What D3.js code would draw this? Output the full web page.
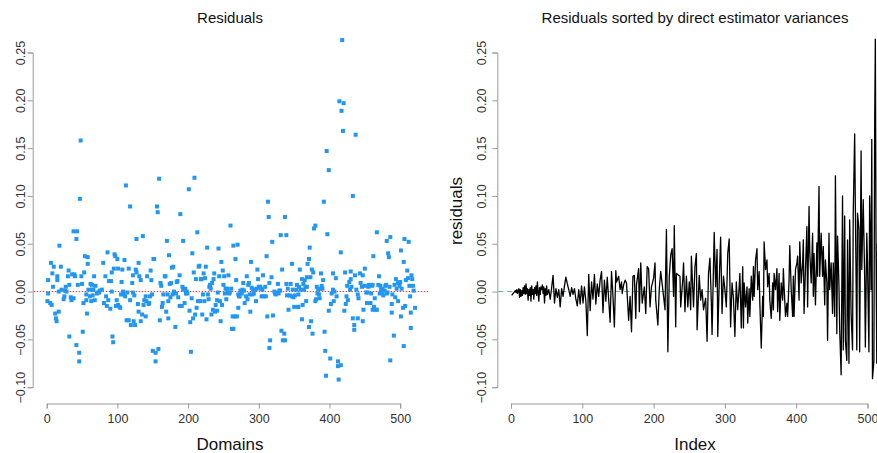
<!DOCTYPE html>
<html>
<head>
<meta charset="utf-8">
<script src="https://cdn.jsdelivr.net/npm/d3@7"></script>
<style>
    body { margin: 0; background: #fff; }
    svg { display: block; font-family: "Liberation Sans", Arial, Helvetica, sans-serif; }
</style>
</head>
<body>
<div id="vis-container"></div>
<script>
// Residuals by domain: [domain, residual]
const domainResiduals = [
    [1,-0.010],[2,0.012],[2,-0.002],[5,-0.012],[6,0.030],[7,-0.014],[8,0.019],[9,0.005],[10,0.026],[12,-0.023],
    [13,-0.028],[14,-0.031],[15,0.016],[15,0.012],[17,0.000],[17,-0.021],[18,0.048],[20,0.026],[21,0.002],[24,-0.008],
    [25,-0.005],[26,0.001],[27,0.005],[28,0.000],[30,0.016],[31,0.022],[32,-0.047],[32,0.007],[34,-0.006],[35,-0.009],
    [36,0.018],[38,0.063],[38,-0.007],[39,0.018],[40,0.016],[42,-0.056],[42,0.055],[43,0.063],[44,0.007],[46,-0.064],
    [46,-0.073],[47,0.097],[48,0.158],[49,0.016],[50,0.008],[51,-0.042],[52,-0.012],[53,0.020],[54,0.037],[56,-0.003],
    [56,-0.009],[57,-0.023],[58,0.036],[58,0.029],[59,0.002],[61,-0.005],[62,0.008],[63,-0.010],[64,0.002],[64,0.007],
    [65,-0.004],[66,0.002],[67,0.016],[68,-0.009],[69,0.006],[71,-0.002],[72,-0.001],[74,-0.001],[75,0.001],[78,0.002],
    [80,0.030],[81,-0.012],[83,0.016],[84,-0.005],[85,-0.015],[86,0.041],[87,-0.009],[88,0.011],[90,-0.018],[91,0.011],
    [92,0.000],[92,0.020],[93,-0.047],[94,-0.053],[95,0.024],[96,0.039],[97,0.037],[98,-0.015],[99,-0.009],[100,0.034],
    [101,0.024],[101,-0.014],[103,-0.016],[104,-0.017],[105,-0.003],[106,0.010],[107,0.023],[108,0.000],[109,-0.003],[110,0.033],
    [111,-0.005],[112,0.111],[113,-0.030],[114,-0.001],[116,-0.030],[116,0.024],[118,0.089],[118,-0.009],[119,-0.035],[121,0.009],
    [122,-0.001],[122,0.017],[123,-0.031],[124,-0.004],[125,-0.035],[126,0.023],[127,0.055],[127,0.020],[129,-0.013],[130,-0.021],
    [130,0.030],[131,0.016],[133,0.012],[133,-0.031],[135,-0.024],[136,0.058],[137,-0.014],[138,-0.009],[140,-0.026],[140,-0.005],
    [141,-0.010],[142,0.016],[144,-0.013],[145,-0.012],[146,-0.005],[147,0.022],[148,0.012],[149,-0.003],[150,-0.062],[151,0.034],
    [152,0.034],[154,-0.064],[154,-0.073],[156,0.089],[157,0.083],[158,-0.060],[159,0.118],[160,-0.030],[161,0.009],[162,0.006],
    [163,-0.016],[164,-0.012],[165,-0.003],[167,0.016],[168,0.016],[169,-0.021],[170,0.053],[171,-0.003],[172,-0.028],[172,-0.010],
    [173,0.038],[174,0.008],[175,-0.006],[176,0.009],[177,0.025],[178,-0.003],[179,0.026],[180,0.000],[182,-0.037],[183,-0.002],
    [184,0.010],[185,0.011],[186,-0.006],[188,0.017],[188,-0.015],[189,0.081],[191,-0.015],[192,0.005],[193,0.053],[193,0.002],
    [195,-0.012],[196,0.003],[197,-0.002],[198,0.000],[199,-0.002],[201,0.107],[202,-0.020],[203,-0.032],[204,-0.063],[205,-0.007],
    [206,0.040],[207,-0.028],[208,0.020],[209,0.119],[210,-0.024],[211,0.013],[212,-0.017],[213,0.062],[214,-0.010],[215,0.026],
    [216,0.027],[217,-0.010],[218,0.013],[219,0.013],[220,-0.024],[221,-0.003],[222,0.019],[223,-0.010],[224,0.014],[225,0.026],
    [226,-0.029],[227,0.046],[228,-0.003],[229,-0.008],[230,0.005],[231,0.007],[232,0.003],[233,-0.024],[234,0.009],[235,-0.019],
    [236,0.013],[237,0.019],[238,-0.021],[239,-0.014],[241,-0.020],[241,-0.009],[242,-0.001],[243,0.045],[244,0.016],[245,-0.010],
    [246,-0.031],[247,0.031],[248,-0.014],[249,0.022],[250,0.007],[251,0.016],[252,-0.002],[253,0.003],[254,-0.008],[255,0.003],
    [256,-0.001],[257,0.017],[258,-0.002],[259,-0.001],[260,0.069],[261,0.003],[262,-0.039],[263,-0.026],[264,-0.039],[264,0.048],
    [266,-0.026],[267,0.034],[268,0.012],[269,-0.026],[270,0.049],[271,-0.017],[271,-0.003],[272,-0.005],[273,-0.005],[274,0.001],
    [276,-0.002],[277,0.002],[278,0.009],[279,0.001],[280,-0.012],[282,-0.005],[283,0.016],[284,-0.008],[285,0.007],[286,0.009],
    [287,-0.003],[288,-0.021],[289,0.031],[290,0.004],[291,-0.003],[292,0.002],[293,-0.002],[295,0.002],[296,-0.010],[297,0.003],
    [298,0.023],[299,0.013],[300,0.005],[302,0.005],[303,0.003],[304,-0.005],[305,0.002],[306,0.017],[307,-0.005],[309,0.005],
    [310,-0.005],[311,0.037],[312,-0.026],[313,0.094],[314,0.078],[315,0.009],[315,-0.059],[316,-0.051],[318,0.015],[320,-0.025],
    [319,0.052],[322,0.000],[323,-0.002],[324,-0.003],[325,-0.001],[327,0.008],[328,-0.002],[329,0.001],[330,0.001],[331,0.059],
    [332,-0.041],[333,0.023],[334,-0.051],[336,-0.044],[337,-0.051],[337,0.078],[339,0.059],[339,0.008],[340,-0.004],[341,0.003],
    [342,-0.019],[344,-0.004],[345,0.008],[347,0.029],[347,-0.005],[348,0.002],[349,-0.006],[350,-0.016],[351,-0.004],[353,0.002],
    [354,0.007],[355,-0.016],[356,-0.003],[356,-0.016],[357,0.005],[358,0.023],[359,0.002],[361,-0.029],[361,0.013],[362,-0.014],
    [363,0.008],[364,0.002],[365,0.012],[366,0.005],[367,-0.010],[368,0.005],[368,0.015],[369,0.029],[371,-0.037],[371,0.034],
    [372,0.046],[373,0.015],[374,-0.031],[375,0.023],[376,-0.044],[377,0.020],[378,0.066],[380,0.069],[380,-0.010],[381,-0.008],
    [382,0.005],[383,-0.002],[384,0.002],[385,-0.003],[386,-0.007],[387,0.003],[388,0.019],[389,0.006],[390,0.003],[391,0.012],
    [392,0.094],[393,-0.042],[394,-0.062],[395,-0.088],[396,0.147],[397,0.060],[399,0.127],[399,-0.020],[401,-0.070],[402,-0.013],
    [403,-0.002],[405,0.002],[405,0.019],[406,-0.010],[407,0.000],[409,0.014],[410,-0.005],[412,-0.073],[412,-0.078],[413,-0.092],
    [414,0.199],[416,-0.077],[416,0.041],[417,0.189],[418,0.263],[419,0.168],[420,0.197],[421,-0.020],[422,0.020],[423,-0.013],
    [424,-0.005],[425,0.006],[426,-0.009],[428,0.010],[429,0.002],[430,0.021],[430,0.013],[431,0.005],[433,-0.028],[433,0.100],
    [435,-0.035],[435,-0.040],[436,0.017],[437,0.164],[438,0.002],[440,-0.003],[440,-0.028],[441,-0.007],[443,0.019],[444,0.009],
    [446,0.005],[447,0.017],[447,-0.031],[448,-0.019],[450,0.024],[450,0.006],[452,-0.001],[453,-0.012],[454,-0.001],[455,0.005],
    [456,0.007],[458,-0.012],[459,-0.002],[460,0.006],[461,0.007],[461,-0.019],[462,0.037],[463,-0.016],[464,-0.007],[465,-0.019],
    [467,0.062],[467,-0.019],[469,0.007],[470,0.016],[471,-0.002],[472,0.006],[473,0.002],[474,-0.001],[475,0.003],[476,-0.004],
    [478,0.001],[479,0.006],[480,0.007],[481,0.053],[481,-0.002],[482,-0.001],[483,0.040],[484,0.036],[485,0.005],[486,0.057],
    [486,-0.072],[488,-0.013],[488,-0.022],[489,-0.003],[491,-0.046],[492,0.007],[493,-0.006],[494,0.013],[495,0.003],[497,-0.010],
    [497,0.009],[499,0.006],[500,0.010],[501,0.043],[501,-0.026],[502,0.003],[504,-0.017],[505,0.031],[505,-0.057],[506,0.055],
    [507,-0.015],[508,0.012],[510,0.022],[511,0.014],[512,0.052],[513,0.006],[514,-0.005],[515,-0.022],[515,-0.038],[516,0.017],
    [517,0.013],[518,0.006],[519,0.001],[521,-0.017]
];

// Residuals sorted by direct estimator variances: [index, residual]
const sortedResiduals = [
    [1,-0.004],[2,-0.003],[3,-0.002],[4,-0.001],[5,0.000],[6,0.001],[7,-0.001],[8,0.002],[9,-0.002],[10,0.001],
    [11,0.003],[12,-0.006],[13,0.002],[14,-0.005],[15,0.001],[16,-0.004],[17,0.004],[18,-0.002],[19,0.006],[20,-0.003],
    [21,0.008],[22,-0.002],[23,0.003],[24,-0.009],[25,0.002],[26,-0.004],[27,0.004],[28,-0.010],[29,0.006],[30,-0.003],
    [31,0.002],[32,-0.008],[33,0.004],[34,-0.002],[35,0.006],[36,-0.004],[37,0.010],[38,-0.001],[39,-0.010],[40,0.004],
    [41,-0.003],[42,0.005],[43,0.002],[44,0.007],[45,-0.002],[46,0.005],[47,-0.012],[48,0.003],[49,-0.004],[50,0.006],
    [51,-0.003],[53,0.002],[55,-0.008],[57,0.004],[59,0.017],[61,-0.012],[63,0.003],[65,-0.006],[67,0.002],[69,-0.016],
    [71,0.003],[73,-0.005],[75,0.006],[77,0.015],[79,0.008],[81,0.002],[83,-0.005],[85,0.004],[87,-0.003],[89,0.003],
    [91,-0.008],[93,-0.015],[95,0.002],[97,-0.013],[99,0.006],[101,-0.012],[103,0.005],[105,-0.010],[107,-0.046],[109,0.018],
    [111,-0.020],[113,0.010],[115,-0.008],[117,0.018],[119,-0.013],[121,0.008],[123,-0.005],[125,0.012],[127,0.021],[129,-0.022],
    [131,0.012],[133,-0.010],[135,0.015],[137,-0.008],[139,-0.032],[141,0.021],[143,-0.005],[145,-0.037],[147,0.022],[148,0.010],
    [151,0.016],[153,0.002],[155,0.010],[156,-0.002],[158,0.007],[160,0.012],[162,0.009],[165,-0.030],[167,-0.005],[169,-0.042],
    [171,0.016],[173,0.017],[175,-0.028],[176,0.007],[179,0.024],[180,-0.021],[182,0.030],[184,-0.012],[187,0.005],[189,-0.023],
    [191,0.026],[193,0.024],[195,-0.016],[197,0.005],[200,0.014],[202,0.030],[203,-0.009],[206,-0.035],[208,0.003],[210,0.021],
    [214,-0.005],[216,-0.019],[218,0.065],[220,-0.063],[222,0.016],[224,0.038],[226,0.045],[228,-0.005],[229,0.069],[231,-0.037],
    [232,0.019],[235,0.017],[237,0.016],[238,-0.016],[241,0.014],[242,0.030],[244,-0.021],[246,0.016],[248,-0.016],[250,0.010],
    [252,-0.019],[253,0.037],[256,-0.016],[258,0.026],[260,0.040],[261,-0.040],[264,0.017],[266,-0.009],[268,0.002],[270,-0.019],
    [273,-0.007],[275,-0.052],[277,0.019],[279,0.035],[281,-0.012],[282,-0.045],[285,0.062],[287,0.005],[289,0.044],[290,-0.047],
    [292,0.009],[294,0.057],[296,-0.023],[298,0.016],[300,0.002],[302,-0.016],[304,0.040],[306,0.055],[308,-0.037],[310,0.009],
    [312,-0.007],[314,-0.047],[316,0.010],[318,-0.019],[320,0.005],[321,0.019],[323,-0.038],[325,0.026],[326,-0.038],[327,0.009],
    [329,-0.016],[331,0.005],[332,-0.033],[334,0.003],[335,-0.026],[337,0.016],[339,-0.009],[340,0.026],[341,-0.005],[343,0.033],
    [345,0.045],[346,0.002],[348,0.021],[349,-0.012],[351,-0.059],[353,-0.005],[354,-0.026],[355,0.052],[357,0.023],[359,0.033],
    [360,0.005],[362,0.019],[363,-0.009],[365,-0.028],[367,0.009],[368,-0.019],[369,0.019],[371,0.002],[373,0.024],[374,-0.021],
    [376,0.019],[377,-0.030],[379,0.009],[381,-0.009],[382,0.024],[383,0.005],[385,-0.026],[387,-0.012],[388,-0.026],[390,0.012],
    [391,0.048],[393,0.002],[395,-0.026],[396,0.016],[397,-0.026],[399,0.023],[401,0.030],[402,0.037],[404,-0.009],[405,0.052],
    [407,0.009],[409,0.030],[410,0.054],[411,-0.023],[413,0.023],[415,0.068],[416,-0.016],[418,0.089],[419,0.042],[421,0.009],
    [423,0.061],[424,-0.005],[425,0.040],[427,-0.014],[429,0.051],[430,0.016],[432,0.110],[433,0.016],[435,0.061],[437,0.016],
    [438,0.047],[440,-0.014],[441,0.033],[443,0.009],[444,-0.051],[446,0.061],[447,0.002],[449,0.030],[451,-0.023],[452,0.030],
    [454,-0.026],[455,0.121],[457,-0.044],[458,0.058],[460,0.005],[461,-0.040],[463,-0.087],[465,0.100],[466,-0.061],[468,0.079],
    [469,-0.051],[471,-0.072],[472,0.054],[474,-0.075],[475,0.075],[477,-0.023],[479,-0.061],[480,0.082],[482,0.165],[483,0.086],
    [485,-0.061],[486,0.082],[488,0.065],[489,-0.063],[491,0.147],[492,0.023],[494,0.096],[496,0.016],[497,-0.058],[499,0.061],
    [500,0.030],[502,-0.063],[503,0.100],[505,0.002],[506,0.159],[507,-0.091],[509,-0.072],[510,0.166],[511,0.264],[512,0.044],
    [513,-0.075],[514,0.050],[515,-0.020]
];

// Tick labels
const xTicks = [0, 100, 200, 300, 400, 500];
const yTicks = [-0.10, -0.05, 0.00, 0.05, 0.10, 0.15, 0.20, 0.25];

function main()
{
    const width = 877;
    const height = 453;

    // Shared vertical position of the x-axes
    const xAxisY = 403.5;

    // Panel layout
    const panels = {
        left: { axisX: 32.7, x0: 46.7, x1: 400.2, right: 429.8, labelGap: 7.5, center: 230 },
        right: { axisX: 497.3, x0: 511, x1: 867.5, right: 895, labelGap: 11, center: 695 }
    };

    const svg = d3.select("#vis-container")
        .append("svg")
        .attr("width", width)
        .attr("height", height);

    // Same y scale for both panels
    const yScale = d3.scaleLinear().domain([-0.10, 0.25]).range([387.2, 52.5]);

    const xLeft = d3.scaleLinear().domain([0, 500]).range([panels.left.x0, panels.left.x1]);
    const xRight = d3.scaleLinear().domain([0, 500]).range([panels.right.x0, panels.right.x1]);

    // Draw an R-style pair of axes
    function drawAxes(xScale, p)
    {
        const xAxis = d3.axisBottom(xScale)
            .tickValues(xTicks)
            .tickSizeOuter(0)
            .tickSize(5)
            .tickFormat(d3.format("d"));

        const gx = svg.append("g")
            .attr("transform", `translate(0, ${xAxisY})`)
            .call(xAxis);

        gx.selectAll("text")
            .attr("y", 19)
            .attr("dy", 0)
            .style("font-size", "12.5px")
            .style("fill", "#333");

        const yAxis = d3.axisLeft(yScale)
            .tickValues(yTicks)
            .tickSizeOuter(0)
            .tickSize(5)
            .tickFormat(d3.format(".2f"));

        const gy = svg.append("g")
            .attr("transform", `translate(${p.axisX}, 0)`)
            .call(yAxis);

        gy.selectAll("text")
            .attr("transform", "rotate(-90)")
            .attr("x", 0)
            .attr("y", -p.labelGap)
            .attr("dy", 0)
            .attr("text-anchor", "middle")
            .text(d => d < 0 ? "\u2212" + d3.format(".2f")(-d) : d3.format(".2f")(d))
            .style("font-size", "12.5px")
            .style("fill", "#333");

        svg.selectAll(".domain, .tick line")
            .attr("stroke", "#9a9a9a");
    }

    drawAxes(xLeft, panels.left);
    drawAxes(xRight, panels.right);

    // Left panel: zero reference line and points
    svg.append("line")
        .attr("x1", panels.left.axisX + 1)
        .attr("x2", panels.left.right)
        .attr("y1", yScale(0))
        .attr("y2", yScale(0))
        .attr("stroke", "#e53935")
        .attr("stroke-width", 1)
        .attr("stroke-dasharray", "1.5,1.5");

    const pointSize = 4;

    svg.append("g")
        .selectAll("rect")
        .data(domainResiduals)
        .enter()
        .append("rect")
        .attr("x", d => xLeft(d[0]) - pointSize / 2)
        .attr("y", d => yScale(d[1]) - pointSize / 2)
        .attr("width", pointSize)
        .attr("height", pointSize)
        .style("fill", "#2196F3");

    // Right panel: zero reference line and sorted residual line
    svg.append("line")
        .attr("x1", panels.right.axisX + 1)
        .attr("x2", width)
        .attr("y1", yScale(0))
        .attr("y2", yScale(0))
        .attr("stroke", "#4cb87f")
        .attr("stroke-width", 1)
        .attr("stroke-dasharray", "5,4");

    const line = d3.line()
        .x(d => xRight(d[0]))
        .y(d => yScale(d[1]));

    svg.append("path")
        .datum(sortedResiduals)
        .attr("d", line)
        .attr("fill", "none")
        .attr("stroke", "#000")
        .attr("stroke-width", 1.3)
        .attr("stroke-linejoin", "round");

    // Titles
    svg.append("text")
        .attr("x", panels.left.center)
        .attr("y", 22.5)
        .attr("text-anchor", "middle")
        .style("font-size", "15px")
        .style("fill", "#111")
        .text("Residuals");

    svg.append("text")
        .attr("x", panels.right.center)
        .attr("y", 22.5)
        .attr("text-anchor", "middle")
        .style("font-size", "15px")
        .style("fill", "#111")
        .text("Residuals sorted by direct estimator variances");

    // Axis labels
    svg.append("text")
        .attr("x", panels.left.center)
        .attr("y", 449.5)
        .attr("text-anchor", "middle")
        .style("font-size", "17px")
        .style("fill", "#111")
        .text("Domains");

    svg.append("text")
        .attr("x", panels.right.center)
        .attr("y", 449.5)
        .attr("text-anchor", "middle")
        .style("font-size", "17px")
        .style("fill", "#111")
        .text("Index");

    svg.append("text")
        .attr("transform", `translate(462, 211) rotate(-90)`)
        .attr("text-anchor", "middle")
        .style("font-size", "17px")
        .style("fill", "#111")
        .text("residuals");
}

document.addEventListener("DOMContentLoaded", main);
</script>
</body>
</html>
